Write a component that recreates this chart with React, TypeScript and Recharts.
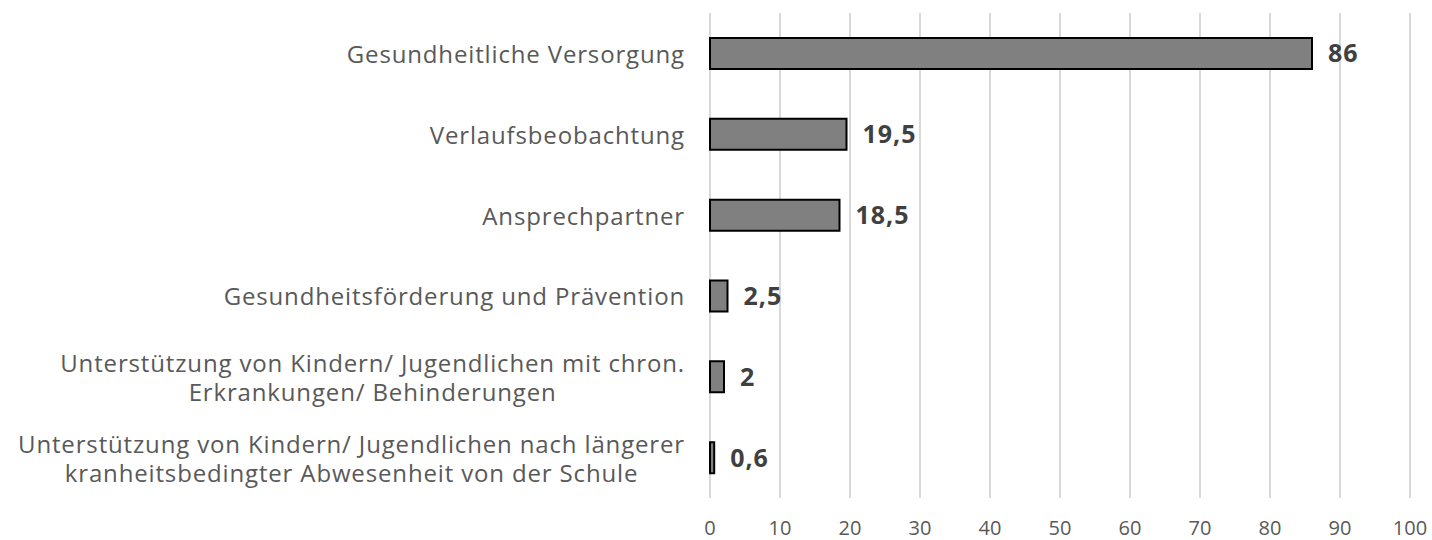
import { BarChart, Bar, XAxis, YAxis, CartesianGrid, LabelList } from "recharts";

const categories = [
  "Gesundheitliche Versorgung",
  "Verlaufsbeobachtung",
  "Ansprechpartner",
  "Gesundheitsförderung und Prävention",
  "Unterstützung von Kindern/ Jugendlichen mit chron.\nErkrankungen/ Behinderungen",
  "Unterstützung von Kindern/ Jugendlichen nach längerer\nkranheitsbedingter Abwesenheit von der Schule",
];
const values = [86, 19.5, 18.5, 2.5, 2, 0.6];
const xTicks = [0, 10, 20, 30, 40, 50, 60, 70, 80, 90, 100];

const data = categories.map((name, i) => ({ name, value: values[i] }));

const FONT = "'Open Sans', sans-serif";

const CategoryTick = (props: any) => {
  const { x, y, payload } = props;
  const lines = String(payload.value).split("\n");
  return (
    <foreignObject x={x - 705} y={y - 45} width={705} height={90}>
      <div
        style={{
          height: "100%",
          display: "flex",
          alignItems: "center",
          justifyContent: "flex-end",
        }}
      >
        <div
          style={{
            textAlign: "center",
            fontFamily: FONT,
            fontSize: 24,
            letterSpacing: "0.85px",
            lineHeight: "29px",
            color: "#595959",
            whiteSpace: "nowrap",
          }}
        >
          {lines.map((l, i) => (
            <div key={i}>{l}</div>
          ))}
        </div>
      </div>
    </foreignObject>
  );
};

export default function App() {
  return (
    <div style={{ width: 1432, height: 540, background: "#fff" }}>
      <style>{"body{margin:0}"}</style>
      <BarChart
        width={1432}
        height={540}
        data={data}
        layout="vertical"
        margin={{ top: 13, right: 22, left: 0, bottom: 0 }}
        barCategoryGap={0}
      >
        <CartesianGrid horizontal={false} stroke="#d9d9d9" strokeWidth={2} />
        <XAxis
          type="number"
          domain={[0, 100]}
          ticks={xTicks}
          axisLine={false}
          tickLine={false}
          tickSize={0}
          tickMargin={23}
          height={42}
          tick={{ fill: "#595959", fontSize: 20, fontFamily: FONT }}
        />
        <YAxis
          type="category"
          dataKey="name"
          width={710}
          axisLine={false}
          tickLine={false}
          tickSize={0}
          tickMargin={25}
          tick={<CategoryTick />}
        />
        <Bar
          dataKey="value"
          fill="#808080"
          stroke="#000000"
          strokeWidth={2}
          barSize={31}
          isAnimationActive={false}
        >
          <LabelList
            dataKey="value"
            position="right"
            offset={16}
            formatter={(v: any) => String(v).replace(".", ",")}
            style={{
              fill: "#404040",
              fontSize: 25,
              fontWeight: "bold",
              fontFamily: FONT,
              letterSpacing: "1px",
            }}
          />
        </Bar>
      </BarChart>
    </div>
  );
}
